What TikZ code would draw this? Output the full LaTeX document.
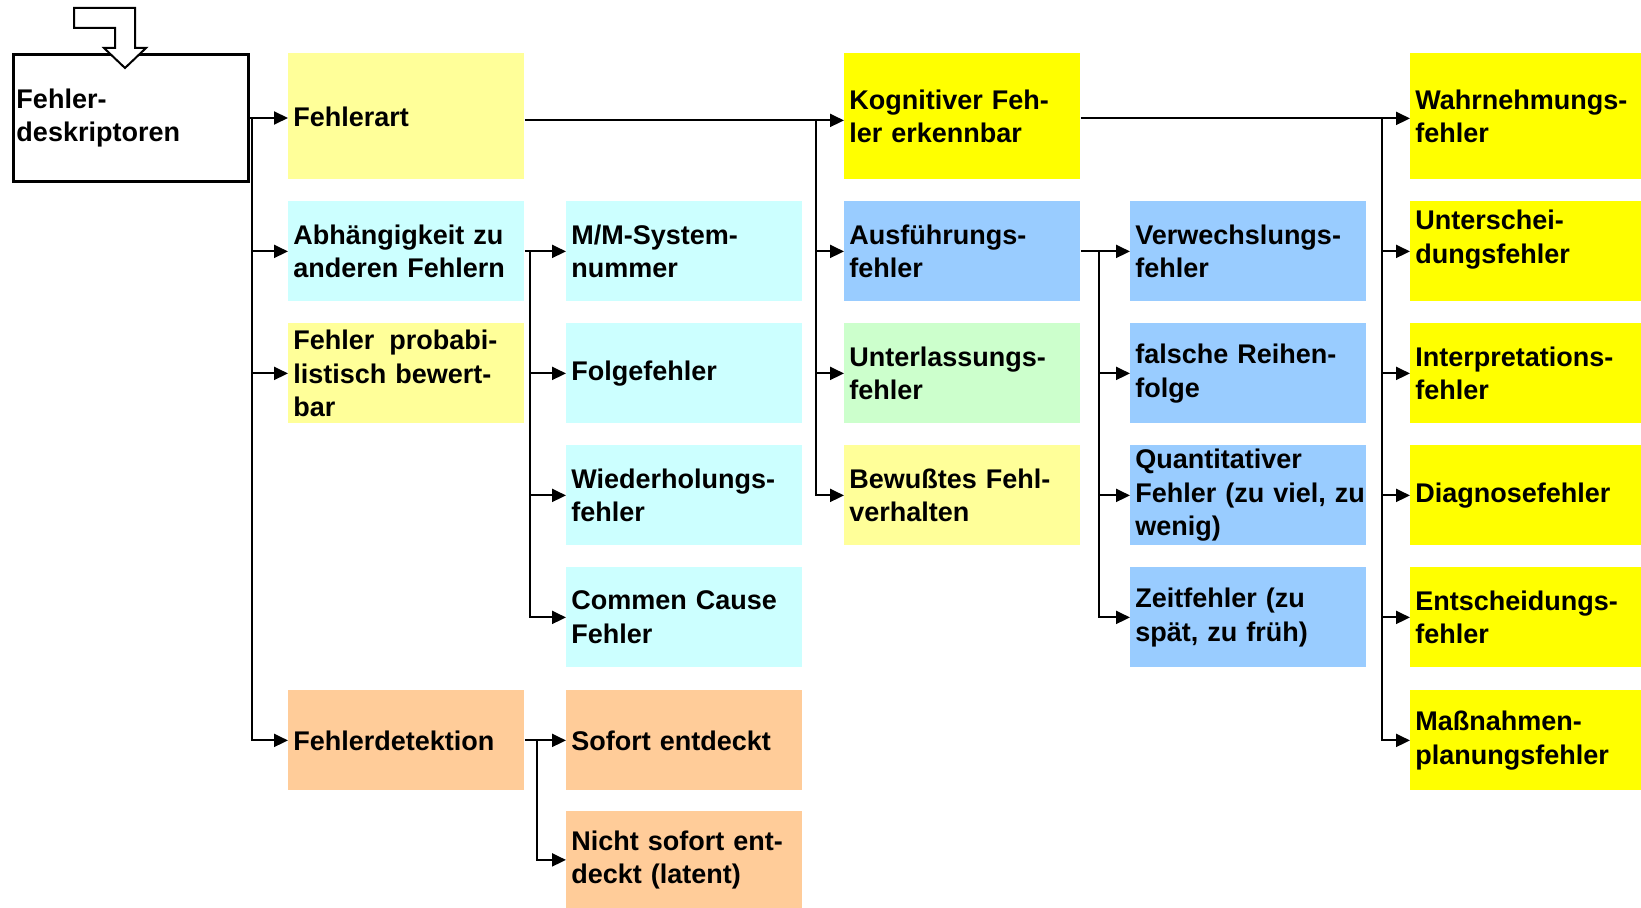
\documentclass[tikz,border=0pt]{standalone}
\usepackage{fontspec}
\setmainfont{Liberation Sans}
\usetikzlibrary{arrows.meta}

\definecolor{cLightYellow}{HTML}{FFFF99}
\definecolor{cCyan}{HTML}{CCFFFF}
\definecolor{cPeach}{HTML}{FFCC99}
\definecolor{cYellow}{HTML}{FFFF00}
\definecolor{cBlue}{HTML}{99CCFF}
\definecolor{cGreen}{HTML}{CCFFCC}

\tikzset{
  box/.style={rectangle, anchor=north west, inner sep=0pt, inner xsep=2.5pt,
    minimum width=118pt, text width=113pt, align=left,
    font=\bfseries\fontsize{13.5}{16.75}\selectfont},
  tallbox/.style={box, minimum height=63pt},
  shortbox/.style={box, minimum height=50pt},
  ln/.style={line width=1pt},
  arr/.style={ln, -{Triangle[length=7pt,width=6.5pt]}},
}

\begin{document}
\begin{tikzpicture}[x=0.5pt, y=-0.5pt]
\useasboundingbox (0,0) rectangle (1641,908);

% root box
\node[box, draw, line width=1.5pt, minimum width=117.5pt, text width=114.5pt,
      inner xsep=1.5pt, minimum height=63.5pt] (main) at (12,53)
  {Fehler-\\deskriptoren};
% open entry arrow on top of the root box
\draw[line width=1pt, fill=white]
  (74,8) -- (135,8) -- (135,48) -- (146,48) -- (125,68) -- (104,48)
  -- (115,48) -- (115,28) -- (74,28) -- cycle;

% second column
\node[tallbox, fill=cLightYellow] (fehlerart) at (288,53) {Fehlerart};
\node[shortbox, fill=cCyan] (abh) at (288,201) {Abhängigkeit zu\\anderen Fehlern};
\node[shortbox, fill=cLightYellow] (prob) at (288,323)
  {Fehler\hspace{0.55em}probabi-\\listisch bewert-\\bar};
\node[shortbox, fill=cPeach] (det) at (288,690) {Fehlerdetektion};

% third column
\node[shortbox, fill=cCyan] (mm) at (566,201) {M/M-System-\\nummer};
\node[shortbox, fill=cCyan] (folge) at (566,323) {Folgefehler};
\node[shortbox, fill=cCyan] (wieder) at (566,445) {Wiederholungs-\\fehler};
\node[shortbox, fill=cCyan] (commen) at (566,567) {Commen Cause\\Fehler};
\node[shortbox, fill=cPeach] (sofort) at (566,690) {Sofort entdeckt};
\node[box, fill=cPeach, minimum height=48.5pt] (nicht) at (566,811)
  {Nicht sofort ent-\\deckt (latent)};

% fourth column
\node[tallbox, fill=cYellow] (kog) at (844,53) {Kognitiver Feh-\\ler erkennbar};
\node[shortbox, fill=cBlue] (ausf) at (844,201) {Ausführungs-\\fehler};
\node[shortbox, fill=cGreen] (unterl) at (844,323) {Unterlassungs-\\fehler};
\node[shortbox, fill=cLightYellow] (bewusst) at (844,445) {Bewußtes Fehl-\\verhalten};

% fifth column
\node[shortbox, fill=cBlue] (verw) at (1130,201) {Verwechslungs-\\fehler};
\node[shortbox, fill=cBlue] (falsch) at (1130,323) {falsche Reihen-\\folge};
\node[shortbox, fill=cBlue] (quant) at (1130,445)
  {Quantitativer\\Fehler~(zu~viel,~zu\\wenig)};
\node[shortbox, fill=cBlue] (zeit) at (1130,567) {Zeitfehler (zu\\spät, zu früh)};

% sixth column
\node[tallbox, fill=cYellow] (wahr) at (1410,53) {Wahrnehmungs-\\fehler};
% this text sits higher in its box than the others
\node[shortbox, fill=cYellow, text depth=31.6pt] (unter) at (1410,201)
  {Unterschei-\\dungsfehler};
\node[shortbox, fill=cYellow] (interp) at (1410,323) {Interpretations-\\fehler};
\node[shortbox, fill=cYellow] (diag) at (1410,445) {Diagnosefehler};
\node[shortbox, fill=cYellow] (entsch) at (1410,567) {Entscheidungs-\\fehler};
\node[shortbox, fill=cYellow] (massn) at (1410,690) {Maßnahmen-\\planungsfehler};

% vertical trunks of the branches
\coordinate (tA) at (252,0);
\coordinate (tB) at (530,0);
\coordinate (tC) at (537,0);
\coordinate (tD) at (816,0);
\coordinate (tE) at (1099,0);
\coordinate (tF) at (1382,0);

% the two long rows run slightly below the box centres
\coordinate (rowD) at ([yshift=-2pt]fehlerart.east);
\coordinate (rowF) at ([yshift=-1pt]kog.east);

% root branches
\draw[arr] (main.east) -- (fehlerart.west |- main.east);
\draw[arr] (tA |- main.east) |- (abh.west);
\draw[arr] (tA |- main.east) |- (prob.west);
\draw[arr] (tA |- main.east) |- (det.west);

% dependency branches
\draw[arr] (abh.east) -- (mm.west);
\draw[arr] (tB |- abh.east) |- (folge.west);
\draw[arr] (tB |- abh.east) |- (wieder.west);
\draw[arr] (tB |- abh.east) |- (commen.west);

% detection branches
\draw[arr] (det.east) -- (sofort.west);
\draw[arr] (tC |- det.east) |- (nicht.west);

% error type branches
\draw[arr] (rowD) -- (kog.west |- rowD);
\draw[arr] (tD |- rowD) |- (ausf.west);
\draw[arr] (tD |- rowD) |- (unterl.west);
\draw[arr] (tD |- rowD) |- (bewusst.west);

% execution error branches
\draw[arr] (ausf.east) -- (verw.west);
\draw[arr] (tE |- ausf.east) |- (falsch.west);
\draw[arr] (tE |- ausf.east) |- (quant.west);
\draw[arr] (tE |- ausf.east) |- (zeit.west);

% cognitive error branches
\draw[arr] (rowF) -- (wahr.west |- rowF);
\draw[arr] (tF |- rowF) |- (unter.west);
\draw[arr] (tF |- rowF) |- (interp.west);
\draw[arr] (tF |- rowF) |- (diag.west);
\draw[arr] (tF |- rowF) |- (entsch.west);
\draw[arr] (tF |- rowF) |- (massn.west);
\end{tikzpicture}
\end{document}
